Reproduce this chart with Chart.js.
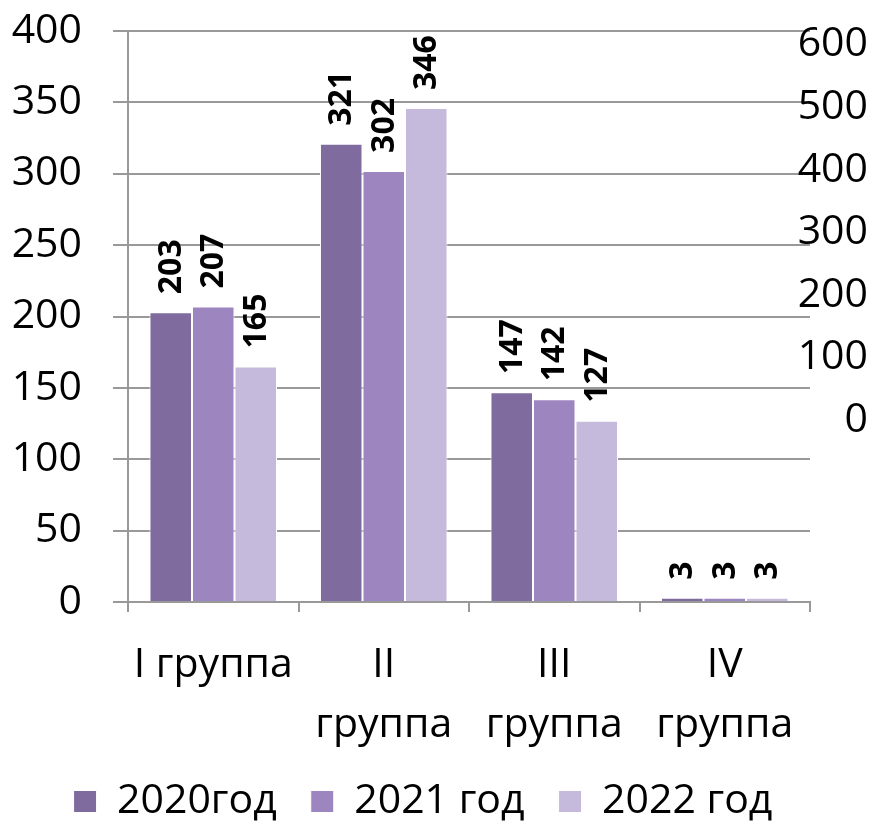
<!DOCTYPE html>
<html>
<head>
<meta charset="utf-8">
<script src="https://cdn.jsdelivr.net/npm/chart.js@4.4.1/dist/chart.umd.min.js"></script>
<style>
  html, body { margin: 0; padding: 0; background: #fff; }
  #wrap { width: 872px; height: 822px; }
</style>
</head>
<body>
<div id="wrap"><canvas id="groupsChart"></canvas></div>
<script>
// categories (multi-line labels as in the original)
const categories = [["I группа"], ["II", "группа"], ["III", "группа"], ["IV", "группа"]];

const years = ["2020год", "2021 год", "2022 год"];
const values2020 = [203, 321, 147, 3];
const values2021 = [207, 302, 142, 3];
const values2022 = [165, 346, 127, 3];

const leftTicks = [0, 50, 100, 150, 200, 250, 300, 350, 400];
// secondary axis only shows labels, no data is bound to it
const rightTicks = [0, 100, 200, 300, 400, 500, 600];
const rightMin = -291;
const rightMax = 622;

const colors = ["#7f6b9d", "#9d85c0", "#c5badb"];
const gridColor = "#999999";

const FONT = "'Open Sans', sans-serif";

// rotated value labels above each bar
const valueLabels = {
  id: "valueLabels",
  afterDatasetsDraw(chart) {
    const ctx = chart.ctx;
    ctx.save();
    ctx.font = "bold 32px " + FONT;
    ctx.fillStyle = "#000";
    ctx.textAlign = "left";
    ctx.textBaseline = "middle";
    chart.data.datasets.forEach((ds, i) => {
      const meta = chart.getDatasetMeta(i);
      meta.data.forEach((bar, j) => {
        ctx.save();
        ctx.translate(bar.x, bar.y - 18);
        ctx.rotate(-Math.PI / 2);
        ctx.fillText(String(ds.data[j]), 0, 1);
        ctx.restore();
      });
    });
    ctx.restore();
  }
};

// labels of the secondary (right) axis, drawn over the plot edge like the original
const rightAxisLabels = {
  id: "rightAxisLabels",
  afterDraw(chart) {
    const s = chart.scales.y1;
    const ctx = chart.ctx;
    ctx.save();
    ctx.font = "41px " + FONT;
    ctx.fillStyle = "#000";
    ctx.textAlign = "right";
    ctx.textBaseline = "middle";
    rightTicks.forEach(v => {
      ctx.fillText(String(v), chart.width - 4, s.getPixelForValue(v));
    });
    ctx.restore();
  }
};

Chart.defaults.color = "#000";
Chart.defaults.font.family = FONT;

const ctx = document.getElementById("groupsChart").getContext("2d");

new Chart(ctx, {
  type: "bar",
  data: {
    labels: categories,
    datasets: [
      { label: years[0], data: values2020, backgroundColor: colors[0] },
      { label: years[1], data: values2021, backgroundColor: colors[1] },
      { label: years[2], data: values2022, backgroundColor: colors[2] }
    ].map(d => Object.assign(d, {
      borderColor: "#ffffff",
      borderWidth: 1,
      categoryPercentage: 0.748,
      barPercentage: 1,
      yAxisID: "y"
    }))
  },
  options: {
    responsive: true,
    maintainAspectRatio: false,
    animation: false,
    layout: { padding: { top: 0, right: 26, left: 0, bottom: -10 } },
    plugins: {
      tooltip: { enabled: false },
      legend: {
        position: "bottom",
        labels: {
          font: { size: 41, lineHeight: 1 },
          boxWidth: 23,
          boxHeight: 22,
          padding: 34
        }
      }
    },
    scales: {
      x: {
        afterFit: (s) => { s.height = 145; },
        grid: {
          drawOnChartArea: false,
          tickLength: 10,
          color: gridColor,
          lineWidth: 2
        },
        border: { color: gridColor, width: 2 },
        ticks: {
          font: { size: 41, lineHeight: 1.45 },
          padding: 24,
          maxRotation: 0,
          autoSkip: false
        }
      },
      y: {
        position: "left",
        min: 0,
        max: 400,
        afterBuildTicks: (s) => { s.ticks = leftTicks.map(v => ({ value: v })); },
        afterFit: (s) => { s.width = 128; },
        grid: { color: gridColor, lineWidth: 2, tickLength: 15 },
        border: { color: gridColor, width: 2 },
        ticks: { font: { size: 41, lineHeight: 0 }, padding: 31, autoSkip: false }
      },
      y1: {
        position: "right",
        min: rightMin,
        max: rightMax,
        afterFit: (s) => { s.width = 36; },
        grid: { display: false },
        border: { display: false },
        ticks: { display: false }
      }
    }
  },
  plugins: [valueLabels, rightAxisLabels]
});
</script>
</body>
</html>
